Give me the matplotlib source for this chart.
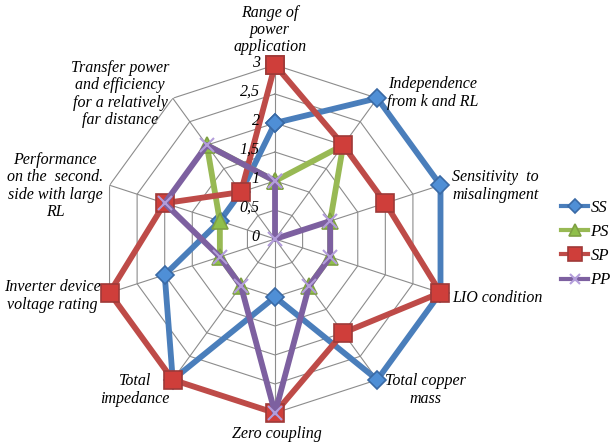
import numpy as np
import matplotlib.pyplot as plt

plt.rcParams['font.family'] = ['Liberation Serif', 'DejaVu Serif']
plt.rcParams['font.style'] = 'italic'

criteria = ['Range of\npower\napplication', 'Independence\nfrom k and RL',
            'Sensitivity  to\nmisalingment', 'LIO condition',
            'Total copper\nmass', 'Zero coupling', 'Total\nimpedance',
            'Inverter device\nvoltage rating',
            'Performance\non the  second.\nside with large\nRL',
            'Transfer power\nand efficiency\nfor a relatively\nfar distance']

ss = [2, 3, 3, 3, 3, 1, 3, 2, 1, 1]
ps = [1, 2, 1, 1, 1, np.nan, 1, 1, 1, 2]
sp = [3, 2, 2, 3, 2, 3, 3, 3, 2, 1]
pp = [1, 0, 1, 1, 1, 3, 1, 1, 2, 2]

ticks = [0, 0.5, 1, 1.5, 2, 2.5, 3]
tick_labels = ['0', '0,5', '1', '1,5', '2', '2,5', '3']

n = len(criteria)
theta = np.linspace(0, 2 * np.pi, n, endpoint=False)
theta_c = np.append(theta, theta[0])

fig = plt.figure(figsize=(6.10, 4.47), dpi=100)
ax = fig.add_axes([0.1656, 0.0761, 0.5705, 0.7785], projection='polar')
ax.set_theta_zero_location('N')
ax.set_theta_direction(-1)
ax.set_ylim(0, 3)
ax.grid(False)
ax.spines['polar'].set_visible(False)
ax.set_xticks([])
ax.set_yticks([])

# decagon grid + spokes
for r in ticks[1:]:
    ax.plot(theta_c, [r] * (n + 1), color='#8c8c8c', lw=0.8, zorder=1)
for t in theta:
    ax.plot([t, t], [0, 3], color='#8c8c8c', lw=0.8, zorder=1)

for r, lab in zip(ticks, tick_labels):
    ax.annotate(lab, xy=(0, r), xytext=(-11, 1.5), textcoords='offset points',
                ha='right', va='center', fontsize=11.5, zorder=6)

series = [
    ('SS', ss, '#4a7ebb', 'D', 9.5, '#3a6aa5', '#4f8fd6'),
    ('PS', ps, '#98b954', '^', 11, '#7fa043', '#8fbf4a'),
    ('SP', sp, '#be4b48', 's', 13, '#9e3a38', '#cf3e3a'),
    ('PP', pp, '#7d60a0', 'x', 10, '#b39ddb', '#b39ddb'),
]
for name, vals, col, mk, ms, edge, face in series:
    v = np.append(vals, vals[0])
    ax.plot(theta_c, v, color=col, lw=4.2, marker=mk, ms=ms,
            markerfacecolor=face, markeredgecolor=edge,
            markeredgewidth=1.2 if mk != 'x' else 1.5,
            label=name, zorder=3, clip_on=False)

# category labels around the chart (pixel positions of each text block)
label_pos = [
    (270, 30, 'center'), (387, 93, 'left'), (452, 186, 'left'),
    (452, 298, 'left'), (425, 390, 'center'), (277, 434, 'center'),
    (135, 390, 'center'), (101, 296, 'right'), (55, 186, 'center'),
    (120, 94, 'center'),
]
for lab, (px, py, ha) in zip(criteria, label_pos):
    fig.text(px / 610, 1 - py / 447, lab, ha=ha, va='center',
             fontsize=11.5, linespacing=1.1, multialignment='center')

leg = ax.legend(loc='center left', bbox_to_anchor=(553 / 610, 1 - 244 / 447),
                bbox_transform=fig.transFigure, frameon=False,
                fontsize=12, handlelength=1.6, labelspacing=0.5,
                handletextpad=0.15, borderpad=0)
for h in leg.legend_handles:
    h.set_linewidth(3)
    h.set_markersize(h.get_markersize() * 0.75)

fig.savefig('out.png', dpi=100)
